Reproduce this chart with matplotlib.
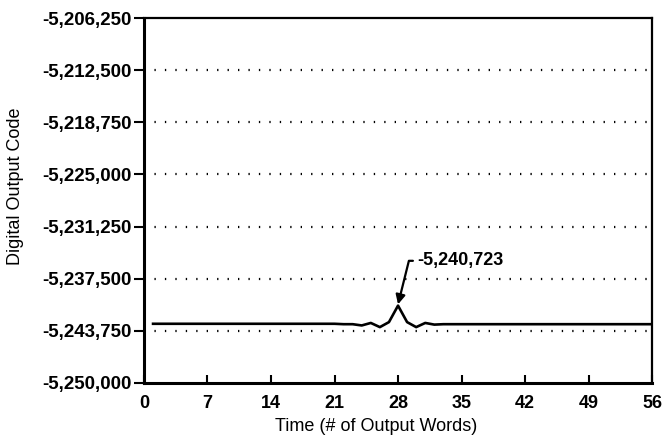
import numpy as np
import matplotlib.pyplot as plt
from matplotlib.ticker import FuncFormatter

# Output word index and digital output code
words = np.arange(1, 57)
codes = [-5242900, -5242900, -5242900, -5242900, -5242900, -5242900, -5242900,
         -5242900, -5242900, -5242900, -5242900, -5242900, -5242900, -5242900,
         -5242900, -5242900, -5242900, -5242900, -5242900, -5242900, -5242900,
         -5242950, -5242950, -5243100, -5242800, -5243300, -5242700, -5240723,
         -5242700, -5243300, -5242800, -5243000, -5242950, -5242950, -5242950,
         -5242950, -5242950, -5242950, -5242950, -5242950, -5242950, -5242950,
         -5242950, -5242950, -5242950, -5242950, -5242950, -5242950, -5242950,
         -5242950, -5242950, -5242950, -5242950, -5242950, -5242950, -5242950]

x_ticks = [0, 7, 14, 21, 28, 35, 42, 49, 56]
y_ticks = [-5250000, -5243750, -5237500, -5231250, -5225000,
           -5218750, -5212500, -5206250]
peak_word = 28
peak_code = -5240723

plt.rcParams['font.family'] = ['Liberation Sans', 'DejaVu Sans']

fig = plt.figure(figsize=(6.62, 4.42), dpi=100)
ax = fig.add_axes([0.2175, 0.1335, 0.7675, 0.8255])

ax.plot(words, codes, color='black', lw=1.9, zorder=3)

# dotted grid at inner y ticks
for y in y_ticks[1:-1]:
    ax.axhline(y, color='black', lw=1.6, ls=(0, (0.6, 4.1)), zorder=1)

ax.set_xlim(0, 56)
ax.set_ylim(-5250000, -5206250)
ax.set_xticks(x_ticks)
ax.set_yticks(y_ticks)
ax.yaxis.set_major_formatter(FuncFormatter(lambda v, p: f"{int(v):,}"))

ax.tick_params(axis='x', direction='in', length=6, width=1.5, pad=9, labelsize=13)
ax.tick_params(axis='y', direction='out', length=7, width=1.5, pad=2, labelsize=13.5)
for lab in ax.get_xticklabels() + ax.get_yticklabels():
    lab.set_fontweight('bold')

for side in ['left', 'bottom']:
    ax.spines[side].set_linewidth(2.2)
for side in ['top', 'right']:
    ax.spines[side].set_linewidth(1.6)

ax.set_xlabel('Time (# of Output Words)', fontsize=13)
ax.set_ylabel('Digital Output Code', fontsize=13)
ax.xaxis.set_label_coords(0.457, -0.095)
ax.yaxis.set_label_coords(-0.236, 0.54)

ax.annotate(f"{peak_code:,}", xy=(peak_word, peak_code + 150),
            xytext=(30.1, -5235350), fontsize=13, fontweight='bold',
            va='center', ha='left',
            arrowprops=dict(arrowstyle='-|>', color='black', lw=1.6,
                            mutation_scale=14, shrinkA=1, shrinkB=0,
                            connectionstyle='angle,angleA=0,angleB=76,rad=0'))

fig.savefig('out.png', dpi=100)
